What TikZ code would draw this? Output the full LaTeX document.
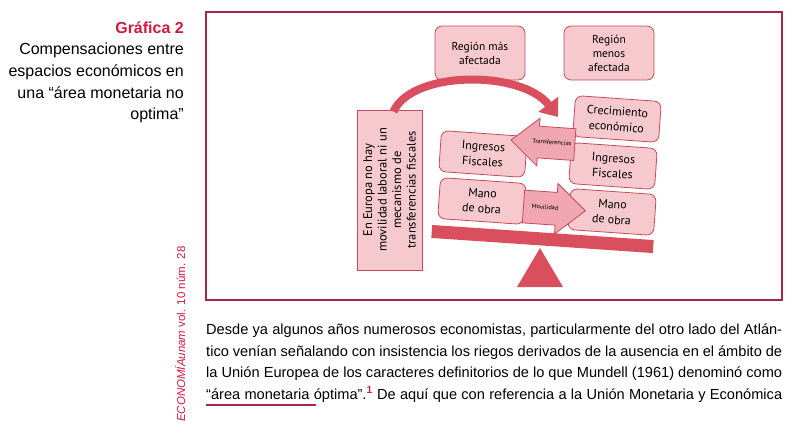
\documentclass[tikz,border=0pt]{standalone}
\usepackage{fontspec}
\setmainfont{Liberation Sans}
\newfontfamily\diagfont{PT Sans}
\usetikzlibrary{positioning, arrows.meta, shapes.arrows}

\definecolor{framered}{HTML}{A8254B}
\definecolor{titlered}{HTML}{D2183F}
\definecolor{boxfill}{HTML}{F6C9CE}
\definecolor{boxline}{HTML}{C44A5B}
\definecolor{strongred}{HTML}{DA4F5E}
\definecolor{arrowfill}{HTML}{F1A7AF}

\begin{document}
\begin{tikzpicture}[x=1pt, y=-1pt,
  caption/.style={font=\fontsize{16}{19}\selectfont, inner sep=0pt, anchor=base east},
  bodyline/.style={font=\fontsize{14.6}{18}\selectfont, inner sep=0pt, anchor=base west},
  region/.style={draw=boxline, fill=boxfill, rounded corners=7pt, line width=0.8pt,
    minimum width=90pt, minimum height=54pt, align=center, inner sep=2pt,
    font=\diagfont\fontsize{11.5}{14}\selectfont},
  block/.style={region, minimum width=86pt, minimum height=41pt, rotate=-4,
    font=\diagfont\fontsize{12}{15.5}\selectfont},
  flow/.style={single arrow, draw=boxline, fill=arrowfill, line width=0.8pt, rotate=-4,
    font=\diagfont\fontsize{6.4}{7}\selectfont, text height=4pt, text depth=1pt,
    inner xsep=1pt, single arrow head indent=0pt, single arrow tip angle=82}
]
\useasboundingbox (0,0) rectangle (795,437);

% --- caption ---
\node[caption, text=titlered, font=\bfseries\fontsize{16}{19}\selectfont] (title) at (184,33) {Gráfica 2};
\foreach \t [count=\i] in {Compensaciones entre, espacios económicos en, una “área monetaria no, optima”}
  \node[caption] (cap\i) at (184,{33+21.7*\i}) {\t};

% --- journal line ---
\node[inner sep=0pt, anchor=base west, rotate=90, text=titlered, font=\fontsize{11.5}{13}\selectfont]
  (journal) at (185,422) {\textit{ECONOMÍAunam} vol. 10 núm. 28};

% --- frame ---
\draw[framered, line width=1.2pt] (206,12) rectangle (782,300);

% --- region headers ---
\node[region] (more) at (480,53) {Región más\\afectada};
\node[region] (less) at (609,53) {Región\\menos\\afectada};

% --- vertical note ---
\node[draw=boxline, fill=boxfill, line width=0.9pt, minimum width=160pt, minimum height=65pt,
  rotate=90, align=center, inner sep=2pt, font=\diagfont\fontsize{12.5}{14.5}\selectfont]
  (note) at (389.5,190) {En Europa no hay\\movilidad laboral ni un\\mecanismo de\\transferencias fiscales};

% --- curved arrow ---
\draw[strongred, line width=8pt, -{Triangle[length=16pt, width=24pt]}]
  ([yshift=-2pt]note.east) ++(4,0) .. controls (412,70) and (522,70) .. (558,117);

% --- stacks on the lever ---
\node[block] (ingL) at (483,154) {Ingresos\\Fiscales};
\node[block] (manoL) at (482,201) {Mano\\de obra};
\node[block] (crec) at (617,119) {Crecimiento\\económico};
\node[block] (ingR) at (613,166) {Ingresos\\Fiscales};
\node[block] (manoR) at (612,212) {Mano\\de obra};

% --- flows between regions ---
\node[flow, shape border rotate=180, minimum height=64pt, inner ysep=13pt,
  single arrow head extend=8pt] (transf) at (552,143) {Transferencias};
\node[flow, minimum height=62pt, inner ysep=13.5pt,
  single arrow head extend=9pt] (movil) at (545,208) {Movilidad};

% --- lever and fulcrum ---
\fill[strongred, rotate around={-3.9:(542.5,239)}] (431.5,232.5) rectangle (653.5,245.5);
\fill[strongred] (540,248) -- (563,287) -- (517,287) -- cycle;

% --- body text ---
\node[bodyline] (line1) at (206,334) {\makebox[576pt][s]{Desde ya algunos años numerosos economistas, particularmente del otro lado del Atlán-}};
\node[bodyline] (line2) at (206,356) {\makebox[576pt][s]{tico venían señalando con insistencia los riegos derivados de la ausencia en el ámbito de}};
\node[bodyline] (line3) at (206,377) {\makebox[576pt][s]{la Unión Europea de los caracteres definitorios de lo que Mundell (1961) denominó como}};
\node[bodyline] (line4) at (206,399) {\makebox[576pt][s]{“área monetaria óptima”.\textcolor{titlered}{\textsuperscript{\bfseries 1}} De aquí que con referencia a la Unión Monetaria y Económica}};
\draw[framered, line width=1.5pt] (206,405) -- (316,405);

\end{tikzpicture}
\end{document}
